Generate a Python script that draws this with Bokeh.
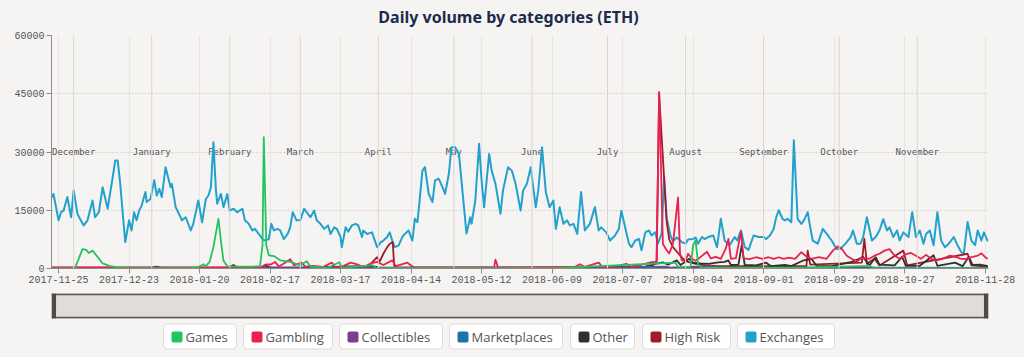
import pandas as pd
from bokeh.plotting import figure
from bokeh.models import FixedTicker, DatetimeTickFormatter, Range1d, NumeralTickFormatter, Span
from bokeh.layouts import column
from bokeh.embed import file_html
from bokeh.resources import INLINE
from bokeh.core.properties import value

# ---------------- data ----------------
START = "2017-11-22"   # day 0 of the series
TITLE = "Daily volume by categories (ETH)"
categories = ["Games", "Gambling", "Collectibles", "Marketplaces", "Other", "High Risk", "Exchanges"]
colors = ["#22c45e", "#ea2150", "#7c3f8c", "#1f73ad", "#303030", "#a01b26", "#22a1cc"]

tick_dates = ["2017-11-25", "2017-12-23", "2018-01-20", "2018-02-17", "2018-03-17", "2018-04-14",
              "2018-05-12", "2018-06-09", "2018-07-07", "2018-08-04", "2018-09-01", "2018-09-29",
              "2018-10-27", "2018-11-28"]
month_names = ["December", "January", "February", "March", "April", "May", "June", "July",
               "August", "September", "October", "November"]
month_starts = ["2017-12-01", "2018-01-01", "2018-02-01", "2018-03-01", "2018-04-01", "2018-05-01",
                "2018-06-01", "2018-07-01", "2018-08-01", "2018-09-01", "2018-10-01", "2018-11-01"]
y_ticks = [0, 15000, 30000, 45000, 60000]

exchanges_day = [0, 1, 3, 4, 5, 6.5, 8, 9, 10.5, 11.5, 13, 14.5, 16.5, 17.5, 19, 20.5, 22.5, 24.5, 25.5, 26.5,
                 27.5, 28.5, 29.5, 31, 32, 33, 34, 35, 36, 37.5, 38, 39.5, 41, 42, 43, 44, 45.5, 47, 47.5, 48,
                 49.5, 50.5, 52, 53.5, 55.5, 56.5, 58.5, 60, 61.5, 62.5, 63.5, 64.5, 65.5, 66, 67.5, 68.5, 70, 71, 72.5, 74,
                 76, 77, 78.5, 80, 81, 82.5, 84, 85, 86.5, 87.5, 88.5, 90, 91, 92.5, 94, 95, 96, 97.5, 99, 100.5,
                 101.5, 103, 104.5, 105.5, 107, 108.5, 110, 111, 112.5, 113.5, 115, 115.5, 117, 118, 119.5, 121, 122, 123.5, 124, 125.5,
                 127.5, 129.5, 131, 132, 133.5, 134.5, 135.5, 136.5, 138, 139.5, 140.5, 142, 143.5, 144.5, 145.5, 146, 147.5, 148.5, 150, 151.5,
                 152.5, 154, 155.5, 156.5, 158, 159, 160.5, 162, 163, 165, 166.5, 167, 168.5, 170, 171, 172, 174, 175, 176.5, 178.5,
                 179.5, 181.5, 183, 184.5, 186.5, 187.5, 189, 190.5, 192.5, 193.5, 195, 196.5, 198, 199.5, 200.5, 202, 203.5, 205, 206, 207.5,
                 209, 210.5, 212, 214, 216, 217.5, 218.5, 220.5, 222, 224, 225.5, 226.5, 228, 229.5, 230.5, 232, 233.5, 234.5, 236, 237.5,
                 238.5, 240, 241, 242.5, 243.5, 244.5, 246, 247, 248.5, 250.5, 252, 253, 255, 256, 257, 258.5, 259.5, 261, 263, 264.5,
                 266, 267.5, 269.5, 271.5, 272.5, 274, 275.5, 277, 279, 281, 283, 284, 285.5, 287, 288, 289, 290.5, 291.5, 292.5, 294,
                 295, 296.5, 298, 299, 300.5, 301.5, 302.5, 304.5, 306.5, 308, 310, 312, 313.5, 315.5, 317.5, 318.5, 320, 321.5, 322.5, 324,
                 326, 327.5, 329, 330.5, 332, 333, 334.5, 336, 337, 338.5, 340.5, 342, 343.5, 345, 346.5, 347.5, 349, 350.5, 352, 353.5,
                 355, 356.5, 358.5, 360, 361.5, 362.5, 364, 365.5, 367, 368, 369.5, 370.5, 372]
exchanges_eth = [18000, 19200, 12400, 14500, 14900, 18400, 13200, 20100, 14100, 12800, 11100, 12400, 17500, 13200, 14500, 20900, 15400, 23500, 27800, 27800,
                 21800, 14100, 6800, 12400, 9800, 14500, 12400, 14900, 16200, 19700, 17100, 17900, 22700, 18800, 20500, 18400, 26100, 22200, 20900, 21800,
                 15800, 14500, 12400, 13200, 9800, 11500, 17500, 11900, 17900, 18800, 20900, 32500, 20100, 16700, 19200, 15800, 19200, 14900, 15400, 14500,
                 15400, 12400, 11500, 9800, 10200, 8900, 7600, 7200, 7600, 11500, 9800, 10200, 9800, 7600, 8900, 10600, 14500, 12400, 12400, 15400,
                 14500, 13200, 14900, 12400, 11500, 10200, 11100, 8900, 10600, 10200, 8100, 5500, 10600, 9500, 11100, 11500, 11100, 8100, 9800, 8900,
                 9300, 5500, 6800, 7200, 8100, 9300, 7200, 5500, 5900, 8100, 8900, 9800, 7200, 12800, 11900, 14900, 25200, 26100, 19200, 17100,
                 22700, 23100, 20900, 19200, 24400, 31200, 31200, 29500, 22700, 9000, 13200, 11500, 17500, 32100, 22700, 15800, 29500, 25200, 21800, 14100,
                 20100, 26100, 25200, 21800, 14900, 20100, 21800, 26100, 15800, 20100, 31200, 19700, 15800, 17500, 10200, 15800, 11500, 12400, 11100, 11500,
                 8900, 19700, 9800, 11500, 15800, 9800, 10600, 9300, 7200, 8500, 10200, 14900, 10600, 6400, 5500, 7200, 7600, 4700, 9300, 9800,
                 8500, 9300, 6400, 9000, 23500, 13000, 8500, 7000, 8000, 6800, 6400, 7500, 7600, 8000, 6400, 8100, 7600, 8100, 8500, 5500,
                 12800, 7200, 6000, 8100, 7200, 9800, 5500, 4800, 8500, 8100, 8100, 7600, 8500, 10200, 13200, 15000, 12800, 12400, 12800, 11900,
                 33000, 12800, 11500, 12400, 14500, 10600, 7200, 6400, 10200, 9000, 7200, 5000, 5100, 6400, 8000, 9800, 6400, 6400, 8000, 13200,
                 7200, 8100, 9800, 12700, 9800, 10600, 8100, 9800, 7200, 9300, 8100, 14500, 8100, 9800, 6400, 8900, 9800, 6000, 14500, 7200,
                 5500, 6400, 8100, 6000, 4200, 3800, 12000, 7200, 6000, 9800, 7200, 9300, 7000]

games_day = [0, 9.5, 11, 12.5, 14, 15, 16.5, 18.5, 20.5, 23.5, 27, 30, 55, 58, 59.5, 60.5, 61.5, 63, 64.5, 66.5,
             67.5, 68.5, 70, 75, 80, 83, 84, 84.5, 85.5, 86.5, 88.5, 91, 95, 99, 101.5, 103, 110, 114.5, 115.5, 128,
             129, 200, 248, 249, 254, 255, 256, 257, 258, 300, 325, 327, 372]
games_eth = [0, 100, 2500, 5000, 4800, 4000, 4600, 3000, 1300, 600, 300, 100, 100, 300, 700, 1100, 600, 1700, 5500, 12800,
             7000, 2000, 600, 500, 500, 600, 6000, 33800, 6000, 3400, 3200, 2100, 1700, 800, 1900, 500, 200, 1600, 200, 800,
             100, 100, 1500, 400, 400, 6000, 7200, 1000, 300, 200, 700, 100, 100]

gambling_day = [0, 40, 83.5, 85, 87.5, 89, 90.5, 92.5, 95, 96.5, 99.5, 101, 104, 108, 111.5, 113, 116, 119, 121, 124,
                127, 129.5, 132, 135.5, 137, 141.5, 144, 176, 176.5, 177.5, 208, 210, 212, 217.5, 219, 222, 226, 228.5, 230, 234,
                237, 239, 240.5, 241.5, 243, 244.5, 245.5, 247, 249, 249.8, 250.5, 252, 253, 254.5, 256, 258, 260.5, 262, 264, 266,
                268, 269, 270, 272, 274, 275, 277.5, 280, 282.5, 285, 287, 289, 291, 293, 295.5, 298, 300, 302, 305, 308,
                310.5, 312.5, 314, 316, 318, 320, 322, 325, 327, 329, 331, 333, 335, 337, 339.5, 341.5, 343.5, 345.5, 347.5, 349.5,
                351.5, 354, 357, 359.5, 361.5, 363.5, 366, 368, 369.5, 371, 372]
gambling_eth = [300, 300, 300, 1000, 1100, 1700, 500, 1300, 2400, 800, 1500, 500, 700, 400, 1500, 300, 600, 1500, 1200, 400,
                1300, 1700, 900, 2100, 600, 1500, 300, 300, 2300, 300, 400, 1100, 400, 1500, 400, 500, 800, 1200, 500, 900,
                1400, 1700, 1500, 45500, 6300, 4700, 3900, 6300, 18300, 3900, 2100, 2000, 3800, 2500, 2000, 3000, 4300, 2600, 3000, 2500,
                5200, 7600, 2500, 2700, 9500, 2600, 2400, 2900, 2500, 2900, 2500, 2900, 2500, 2800, 2500, 4200, 3100, 2500, 2900, 2500,
                4600, 5700, 5100, 3300, 2500, 1800, 2700, 2500, 3300, 3800, 4600, 5000, 3300, 2500, 3700, 4000, 3300, 2500, 3500, 2500,
                2100, 2500, 3300, 2900, 2500, 2500, 3000, 3300, 3900, 2900, 2500]

collectibles_day = [0, 120, 240, 262, 264, 300, 372]
collectibles_eth = [50, 80, 100, 600, 200, 150, 100]

marketplaces_day = [0, 100, 200, 244, 246, 300, 330, 372]
marketplaces_eth = [100, 150, 150, 500, 150, 200, 250, 150]

other_day = [0, 40, 42, 44, 70, 72.5, 74, 83, 85, 87, 100, 127, 130, 150, 200, 236, 240, 243, 245, 248.5,
             250, 253.5, 255, 258, 261, 265, 267.5, 269, 270, 273, 274.3, 275.5, 280, 284, 286, 291.5, 294, 298.5, 302, 304,
             310, 318, 321, 322.5, 325, 327.5, 329, 335, 338, 339.5, 345, 350.5, 352, 359, 362, 364.5, 366, 369, 372]
other_eth = [100, 200, 500, 100, 100, 900, 200, 200, 800, 300, 200, 700, 300, 200, 200, 500, 1200, 1600, 1000, 2100,
             900, 2500, 1500, 1300, 1200, 1600, 1700, 2100, 900, 1000, 6000, 900, 800, 1500, 600, 900, 600, 2000, 2500, 700,
             600, 1700, 2500, 3000, 800, 2900, 1000, 800, 3000, 700, 700, 3400, 700, 1500, 600, 3000, 900, 1000, 600]

highrisk_day = [0, 100, 125, 127, 129.5, 130.5, 132, 133.5, 134.5, 135.7, 136.3, 138, 200, 236, 239, 240.5, 241.5, 243.3, 244.5, 245.5,
                247, 249, 251, 253, 256, 260, 265, 300, 300.5, 301.5, 322, 323, 324, 327, 329, 338.5, 340, 364, 365.5, 372]
highrisk_eth = [200, 200, 300, 1200, 2900, 1800, 3800, 5500, 6300, 6800, 700, 200, 200, 300, 800, 2000, 45000, 25200, 12000, 7500,
                5500, 4000, 2500, 1700, 1200, 800, 600, 600, 4600, 1000, 1500, 7600, 1200, 2500, 800, 4600, 800, 3800, 800, 500]

series = {
    "Games": (games_day, games_eth),
    "Gambling": (gambling_day, gambling_eth),
    "Collectibles": (collectibles_day, collectibles_eth),
    "Marketplaces": (marketplaces_day, marketplaces_eth),
    "Other": (other_day, other_eth),
    "High Risk": (highrisk_day, highrisk_eth),
    "Exchanges": (exchanges_day, exchanges_eth),
}

# ---------------- helpers ----------------
BG = "#f6f4f2"
MONO = "Liberation Mono"
t0 = pd.Timestamp(START)


def to_dt(days):
    return t0 + pd.to_timedelta(days, unit="D")


def ms(ts):
    return pd.Timestamp(ts).value / 1e6


def strip_fig(height, x_range, y_range):
    f = figure(width=1024, height=height, x_range=x_range, y_range=y_range,
               output_backend="svg", toolbar_location=None,
               min_border_left=51, min_border_right=36, min_border_top=0, min_border_bottom=0,
               x_axis_location=None, y_axis_location=None,
               background_fill_color=BG, border_fill_color=BG, outline_line_color=None)
    f.grid.visible = False
    return f


x_start, x_end = to_dt(0.2), to_dt(372.3)

# ---------------- title strip (x in page pixels; frame spans 51..988) ----------------
head = strip_fig(30, Range1d(51, 988), Range1d(30, 0))
head.text(x=[508], y=[16.5], text=[TITLE], text_align="center", text_baseline="middle",
          text_font=value("Noto Sans"), text_font_size="16px", text_font_style="bold",
          text_color="#1c2b4b")

# ---------------- main chart ----------------
p = figure(width=1024, height=262, x_axis_type="datetime",
           x_range=Range1d(x_start, x_end), y_range=Range1d(0, 60000),
           output_backend="svg", toolbar_location=None,
           min_border_left=51, min_border_right=36, min_border_top=5, min_border_bottom=24,
           background_fill_color=BG, border_fill_color=BG, outline_line_color=None)

xt = FixedTicker(ticks=[ms(d) for d in tick_dates])
p.xaxis.ticker = xt
fmt = "%Y-%m-%d"
p.xaxis.formatter = DatetimeTickFormatter(days=fmt, months=fmt, years=fmt, hours=fmt,
                                          hourmin=fmt, minutes=fmt, minsec=fmt, seconds=fmt,
                                          milliseconds=fmt, microseconds=fmt)
p.yaxis.ticker = FixedTicker(ticks=y_ticks)
p.yaxis.formatter = NumeralTickFormatter(format="0")

for ax in (p.xaxis, p.yaxis):
    ax.axis_line_color = "#8c8c8c"
    ax.major_tick_line_color = "#8c8c8c"
    ax.major_tick_out = 5
    ax.major_tick_in = 0
    ax.minor_tick_line_color = None
    ax.major_label_text_font = MONO
    ax.major_label_text_font_size = "10px"
    ax.major_label_text_color = "#555555"
p.xaxis.major_label_standoff = 2
p.yaxis.major_label_standoff = 2

p.xgrid.grid_line_color = "#e8e5e2"
p.ygrid.grid_line_color = "#d4d1ce"
p.ygrid.grid_line_dash = "2 2"

for m in month_starts:
    p.add_layout(Span(location=ms(m), dimension="height", line_color="#d9d5d1", line_width=1))

p.text(x=[to_dt((pd.Timestamp(m) - t0).days) for m in month_starts], y=30000, text=month_names,
       text_align="center", text_baseline="middle", text_font=value("DejaVu Sans Mono"),
       text_font_size="9px", text_color="#555555")

for cat in reversed(categories):
    d, v = series[cat]
    col = colors[categories.index(cat)]
    p.line(x=[to_dt(x) for x in d], y=v, line_color=col,
           line_width=2 if cat == "Exchanges" else 1.8, line_join="round")

# ---------------- navigator ----------------
nav = strip_fig(30, p.x_range, Range1d(0, 1))
nav.min_border_top = 1
nav.min_border_bottom = 4
nav.quad(left=x_start, right=x_end, bottom=0, top=1, fill_color="#e0dcd9", line_color=None)
nav.segment(x0=[x_start, x_start], x1=[x_end, x_end], y0=[0.97, 0.03], y1=[0.97, 0.03],
            line_color="#5a5a5a", line_width=2)
nav.quad(left=[x_start, to_dt(370.5)], right=[to_dt(2.0), x_end], bottom=0, top=1,
         fill_color="#4a4a4a", line_color=None)

# ---------------- legend (x in page pixels, frame spans 51..988) ----------------
leg = strip_fig(35, Range1d(51, 988), Range1d(35, 0))
box_left = [163, 243, 339, 449, 570, 642, 737]
box_right = [236, 332, 442, 562, 634, 730, 834]
leg.quad(left=box_left, right=box_right, top=1.5, bottom=26.5, fill_color="#ffffff",
         line_color="#dedbd8", line_width=1, border_radius=4)
leg.rect(x=[b + 13.5 for b in box_left], y=14.5, width=11, height=11, fill_color=colors,
         line_color=None, border_radius=2)
leg.text(x=[b + 22 for b in box_left], y=14, text=categories, text_baseline="middle",
         text_font=value("Open Sans"), text_font_size="13px", text_color="#555555")

layout = column(head, p, nav, leg, spacing=0)
layout.styles = {"background-color": BG}

open("out.html", "w").write(file_html(layout, INLINE))
